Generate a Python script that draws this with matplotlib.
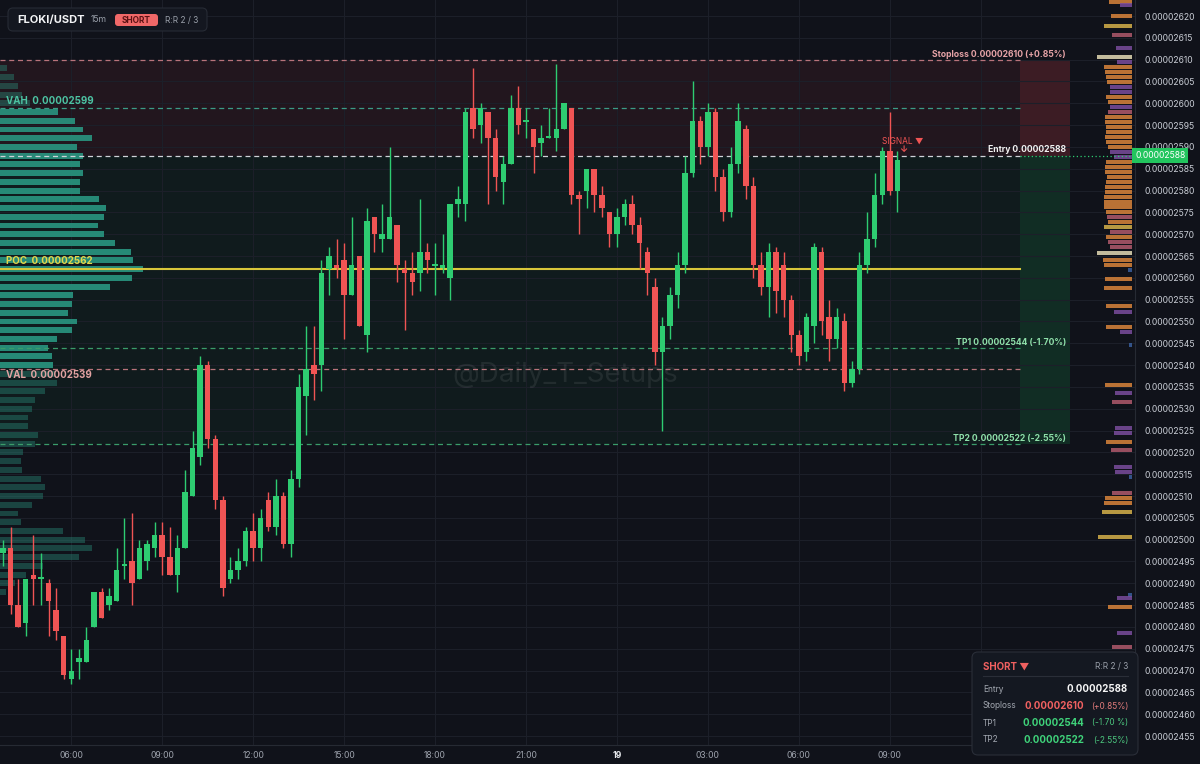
import matplotlib.pyplot as plt
import numpy as np
from matplotlib.patches import FancyBboxPatch
from matplotlib.transforms import blended_transform_factory

plt.rcParams['font.family'] = ['Inter', 'DejaVu Sans']

# prices in units of 1e-8 (2588 -> 0.00002588), 15m candles from 03:45
opens = [2497, 2498, 2485, 2481, 2492, 2491, 2490, 2484, 2478, 2468,
         2472, 2472, 2480, 2488, 2485, 2486, 2494, 2495, 2491, 2495,
         2498, 2501, 2496, 2492, 2498, 2510, 2519, 2540, 2523, 2509,
         2491, 2493, 2495, 2502, 2498, 2509, 2503, 2510, 2499, 2514,
         2533, 2540, 2540, 2562, 2563, 2564, 2556, 2565, 2547, 2574,
         2569, 2569, 2572, 2562, 2561, 2561, 2566, 2562.7, 2562.3, 2560,
         2577, 2577, 2599, 2595, 2598, 2592, 2582, 2586, 2599, 2595.7,
         2594, 2591, 2592, 2592, 2594, 2599, 2579, 2580, 2585, 2579,
         2575, 2570, 2574, 2577, 2572, 2566, 2558, 2543, 2549, 2556,
         2563, 2584, 2596, 2590, 2598, 2583, 2575, 2586, 2594, 2581,
         2563, 2558, 2566, 2563, 2555, 2547, 2543, 2549, 2566, 2551,
         2546, 2550, 2536, 2539, 2563, 2569, 2579, 2589, 2580]
highs = [2500, 2503, 2491, 2491, 2501, 2497, 2491, 2489, 2478, 2475,
         2475, 2480, 2488, 2489, 2489, 2498, 2505, 2506, 2500, 2500,
         2504, 2504, 2503, 2501, 2516, 2525, 2542, 2541, 2524, 2510,
         2496, 2498, 2503, 2506, 2507, 2511, 2514, 2511, 2516, 2538,
         2549, 2549, 2564, 2567, 2569, 2568, 2574, 2565, 2576, 2574,
         2577, 2590, 2572, 2564, 2566, 2578, 2568, 2568, 2570, 2577,
         2581, 2599, 2608, 2600, 2598, 2594, 2588, 2602, 2604, 2599,
         2594, 2595, 2599, 2609, 2600, 2599, 2580, 2585, 2585, 2581,
         2575, 2576, 2578, 2579, 2574, 2567, 2560, 2551, 2558, 2566,
         2588, 2605, 2597, 2600, 2599, 2585, 2590, 2600, 2595, 2583,
         2566, 2568, 2567, 2566, 2556, 2548, 2552, 2568, 2567, 2555,
         2553, 2552, 2541, 2566, 2575, 2584, 2590, 2598, 2589]
lows = [2494, 2483, 2480, 2478, 2485, 2485, 2478, 2477, 2468, 2467,
        2468, 2472, 2480, 2482, 2484, 2486, 2491, 2485, 2491, 2493,
        2496, 2492, 2492, 2488, 2498, 2510, 2517, 2521, 2507, 2487,
        2490, 2491, 2494, 2495, 2495, 2502, 2501, 2498, 2496, 2512,
        2524, 2532, 2534, 2556, 2560, 2546, 2556, 2549, 2543, 2566,
        2566, 2569, 2559, 2548, 2556, 2557, 2561, 2556, 2561, 2555,
        2574, 2573, 2592, 2591, 2577, 2580, 2577, 2586, 2593, 2592,
        2584, 2588, 2592, 2589, 2594, 2577, 2570, 2576, 2575, 2574,
        2567, 2567, 2572, 2570, 2562, 2556, 2540, 2525, 2546, 2553,
        2561, 2583, 2586, 2588, 2580, 2573, 2574, 2584, 2578, 2560,
        2556, 2551, 2552, 2551, 2543, 2540, 2541, 2545, 2547, 2541,
        2544, 2534, 2535, 2538, 2561, 2567, 2577, 2579, 2575]
closes = [2498, 2485, 2480, 2491, 2491, 2491.3, 2486, 2479, 2469, 2470,
          2473, 2477, 2488, 2482, 2487, 2493, 2494.3, 2490, 2498, 2499,
          2501, 2496, 2492, 2498, 2511, 2521, 2540, 2523, 2509, 2489,
          2493, 2495, 2502, 2498, 2505, 2503, 2510, 2499, 2514, 2535,
          2539, 2538, 2561, 2565, 2562.3, 2556, 2563, 2549, 2573, 2570,
          2570, 2574, 2563, 2561, 2559, 2566, 2564, 2563, 2563, 2577,
          2578, 2598, 2594, 2599, 2592, 2583, 2586, 2599, 2595, 2596,
          2590, 2592, 2592.3, 2594, 2600, 2579, 2578, 2585, 2579, 2576,
          2570, 2574, 2577, 2572, 2568, 2561, 2543, 2549, 2556, 2563,
          2584, 2596, 2590, 2598, 2583, 2575, 2586, 2596, 2581, 2563,
          2558, 2566, 2557, 2555, 2547, 2542, 2551, 2567, 2550, 2546,
          2551, 2536, 2539, 2563, 2569, 2579, 2589, 2580, 2587]

time_ticks = [9, 21, 33, 45, 57, 69, 81, 93, 105, 117, 129]
time_labels = ['06:00', '09:00', '12:00', '15:00', '18:00', '21:00', '19',
               '03:00', '06:00', '09:00', '']
price_ticks = list(range(2455, 2621, 5))

# session volume profile (left)
vp_left_price = [2608, 2606, 2604, 2602, 2600, 2598, 2596, 2594, 2592, 2590,
                 2588, 2586, 2584, 2582, 2580, 2578, 2576, 2574, 2572, 2570,
                 2568, 2566, 2564, 2562, 2560, 2558, 2556, 2554, 2552, 2550,
                 2548, 2546, 2544, 2542, 2540, 2538, 2536, 2534, 2532, 2530,
                 2528, 2526, 2524, 2522, 2520, 2518, 2516, 2514, 2512, 2510,
                 2508, 2506, 2504, 2502, 2500, 2498, 2496, 2494, 2492, 2490,
                 2488]
vp_left_vol = [7, 14, 18, 22, 30, 58, 75, 83, 92, 77,
               83, 80, 83, 80, 80, 99, 106, 104, 98, 104,
               115, 131, 133, 143, 132, 110, 73, 72, 68, 77,
               72, 57, 48, 52, 53, 55, 57, 45, 35, 32,
               28, 28, 38, 35, 23, 21, 22, 41, 45, 43,
               32, 18, 21, 63, 85, 92, 79, 43, 26, 15,
               6]

# order-book style heat bars (right)
vp_right_price = [2623.2, 2622.5, 2620.0, 2617.7, 2615.6, 2612.7, 2610.6, 2609.5,
                  2608.3, 2607.2, 2606.0, 2604.9, 2603.7, 2602.6, 2601.4, 2600.3,
                  2599.1, 2598.0, 2596.9, 2595.7, 2594.6, 2593.4, 2592.3, 2591.1,
                  2590.0, 2588.8, 2587.7, 2586.5, 2585.4, 2584.2, 2583.1, 2581.9,
                  2580.8, 2579.6, 2578.5, 2577.3, 2576.2, 2575.1, 2574.0, 2572.8,
                  2571.6, 2570.5, 2569.4, 2568.2, 2567.1, 2565.7, 2564.1, 2562.9,
                  2561.8, 2559.7, 2557.7, 2553.5, 2552.2, 2548.7, 2547.6, 2544.6,
                  2535.4, 2533.6, 2531.5, 2525.6, 2524.4, 2522.4, 2520.5, 2516.7,
                  2515.5, 2514.4, 2510.7, 2509.6, 2508.4, 2506.3, 2500.6, 2487.3,
                  2486.6, 2484.6, 2478.6, 2475.4]
vp_right_vol = [23, 12, 21, 28, 20, 16, 35, 15,
                28, 27, 26, 25, 22, 22, 26, 24,
                22, 24, 27, 27, 26, 26, 27, 26,
                24, 22, 18, 26, 27, 27, 25, 26,
                27, 27, 28, 28, 28, 26, 25, 24,
                28, 22, 26, 24, 22, 35, 29, 28,
                4, 27, 28, 26, 18, 26, 12, 3,
                27, 17, 20, 17, 18, 26, 21, 18,
                17, 3, 20, 27, 28, 30, 34, 4,
                15, 24, 15, 20]
vp_right_kind = ['o', 'p', 'o', 'y', 'k', 'p', 'c', 'p',
                 'o', 'o', 'o', 'o', 'p', 'p', 'o', 'o',
                 'p', 'k', 'o', 'o', 'o', 'o', 'o', 'o',
                 'o', 'p', 'p', 'o', 'o', 'o', 'o', 'o',
                 'o', 'o', 'o', 'o', 'o', 'o', 'k', 'o',
                 'y', 'k', 'o', 'k', 'k', 'c', 'o', 'o',
                 'b', 'o', 'o', 'o', 'p', 'o', 'p', 'b',
                 'o', 'p', 'k', 'p', 'p', 'o', 'k', 'p',
                 'p', 'b', 'k', 'o', 'o', 'y', 'y', 'b',
                 'p', 'o', 'p', 'k']

stoploss, entry, tp1, tp2 = 2610, 2588, 2544, 2522
vah, poc, val = 2599, 2562, 2539

BG = '#10121a'
GRID = '#1c1f29'
GREEN = '#2ecc71'
RED = '#f05454'
kind_colors = {'o': '#d9843a', 'p': '#7a4c9c', 'k': '#b0596c', 'c': '#e4dab4',
               'y': '#d6b04a', 'b': '#3a5f9e'}

W, H = 1200, 764
fig = plt.figure(figsize=(W / 100, H / 100), dpi=100, facecolor=BG)
plot_w, plot_h = 1135, 745
ax = fig.add_axes([0, (H - plot_h) / H, plot_w / W, plot_h / H], facecolor=BG)

xlim = (-0.4, 149.35)
ylim = (2452.95, 2623.67)
px = (xlim[1] - xlim[0]) / plot_w  # data units per pixel in x

# zones
zone_a = 1020 / plot_w
zone_b = 1070 / plot_w
ax.axhspan(entry, stoploss, xmin=0, xmax=zone_b, color='#e0424f', alpha=0.09, lw=0, zorder=0)
ax.axhspan(entry, stoploss, xmin=zone_a, xmax=zone_b, color='#e0424f', alpha=0.14, lw=0, zorder=0)
ax.axhspan(tp2, entry, xmin=0, xmax=zone_b, color='#22c55e', alpha=0.055, lw=0, zorder=0)
ax.axhspan(tp2, entry, xmin=zone_a, xmax=zone_b, color='#22c55e', alpha=0.11, lw=0, zorder=0)

# grid
for t in time_ticks:
    ax.axvline(t, color=GRID, lw=0.8, zorder=0.5)
for p in price_ticks:
    ax.axhline(p, color=GRID, lw=0.8, zorder=0.5)

# left volume profile
vl = np.array(vp_left_vol, dtype=float)
pl = np.array(vp_left_price, dtype=float)
in_va = (pl >= val) & (pl <= vah)
ax.barh(pl[in_va], vl[in_va] * px, left=xlim[0], height=1.35, color='#2a9d86',
        alpha=0.85, lw=0, zorder=1)
ax.barh(pl[~in_va], vl[~in_va] * px, left=xlim[0], height=1.35, color='#2a8a78',
        alpha=0.42, lw=0, zorder=1)

# right heat bars
vr = np.array(vp_right_vol, dtype=float)
ax.barh(vp_right_price, vr * px, left=xlim[1] - 3 * px - vr * px, height=1.0,
        color=[kind_colors[k] for k in vp_right_kind], alpha=0.85, lw=0, zorder=1)

# candles
o, h, l, c = (np.array(a, dtype=float) for a in (opens, highs, lows, closes))
x = np.arange(len(o))
col = np.where(c >= o, GREEN, RED)
ax.vlines(x, l, h, colors=col, lw=1.0, zorder=4)
ax.bar(x, np.maximum(np.abs(c - o), 0.4), bottom=np.minimum(o, c), width=0.72,
       color=col, lw=0, zorder=5)

# levels
dash = (0, (4, 3))
ax.axhline(stoploss, xmax=zone_a, color='#b9737b', ls=dash, lw=0.9, zorder=3)
ax.axhline(vah, xmax=zone_a, color='#3a9c86', ls=dash, lw=0.9, zorder=3)
ax.axhline(entry, xmax=zone_a, color='#cfd2d8', ls=dash, lw=0.9, zorder=3)
ax.axhline(entry, xmin=zone_a, xmax=1, color=GREEN, ls=(0, (1, 2)), lw=0.9, zorder=3)
ax.axhline(poc, xmax=zone_a, color='#d8c63a', lw=1.5, zorder=3)
ax.axhline(tp1, xmax=zone_a, color='#3a9c6a', ls=dash, lw=0.9, zorder=3)
ax.axhline(val, xmax=zone_a, color='#b9737b', ls=dash, lw=0.9, zorder=3)
ax.axhline(tp2, xmax=zone_a, color='#3a9c6a', ls=dash, lw=0.9, zorder=3)

bt = blended_transform_factory(ax.transAxes, ax.transData)
lab_x = 1066 / plot_w
fs_lab = 6.2
ax.text(lab_x, stoploss + 1.2, f'Stoploss 0.{stoploss:08d} (+0.85%)', transform=bt,
        ha='right', va='center', color='#e6a3a7', fontsize=fs_lab, fontweight='bold', zorder=6)
ax.text(lab_x, entry + 1.3, f'Entry 0.{entry:08d}', transform=bt,
        ha='right', va='center', color='#f2f2f2', fontsize=fs_lab, fontweight='bold', zorder=6)
ax.text(lab_x, tp1 + 1.1, f'TP1 0.{tp1:08d} (-1.70%)', transform=bt,
        ha='right', va='center', color='#8fe0aa', fontsize=fs_lab, fontweight='bold', zorder=6)
ax.text(lab_x, tp2 + 1.3, f'TP2 0.{tp2:08d} (-2.55%)', transform=bt,
        ha='right', va='center', color='#8fe0aa', fontsize=fs_lab, fontweight='bold', zorder=6)
ax.text(6 / plot_w, vah + 1.6, f'VAH  0.{vah:08d}', transform=bt, ha='left', va='center',
        color='#4cc2a2', fontsize=7, fontweight='bold', zorder=6)
ax.text(6 / plot_w, poc + 1.8, f'POC  0.{poc:08d}', transform=bt, ha='left', va='center',
        color='#e4d64a', fontsize=7, fontweight='bold', zorder=6)
ax.text(6 / plot_w, val - 1.3, f'VAL  0.{val:08d}', transform=bt, ha='left', va='center',
        color='#e2a2a2', fontsize=7, fontweight='bold', zorder=6)

# signal marker next to the last bars
sig_x = len(o) - 0.3
ax.text(sig_x, entry + 3.4, 'SIGNAL ▼', ha='center', va='center', color=RED,
        fontsize=6, zorder=6)
ax.text(sig_x, entry + 1.4, '↓', ha='center', va='center', color=RED,
        fontsize=6.5, fontweight='bold', zorder=6)

# watermark
ax.text(0.498, 0.497, '@Daily_T_Setups', transform=ax.transAxes, ha='center', va='center',
        color='#ffffff', alpha=0.08, fontsize=20, zorder=2)

# axes styling
ax.set_xlim(*xlim)
ax.set_ylim(*ylim)
ax.yaxis.tick_right()
ax.set_yticks(price_ticks)
ax.set_yticklabels([f'0.{p:08d}' for p in price_ticks])
ax.set_xticks(time_ticks)
ax.set_xticklabels(time_labels)
ax.tick_params(axis='y', length=0, pad=7, labelsize=6.2, labelcolor='#c9cdd5')
ax.tick_params(axis='x', length=0, pad=4, labelsize=6.2, labelcolor='#9ea3ad')
for lab in ax.get_xticklabels():
    if lab.get_text() == '19':
        lab.set_fontweight('bold')
        lab.set_color('#e6e8ec')
for s in ['top', 'left']:
    ax.spines[s].set_visible(False)
ax.spines['right'].set_color('#262a33')
ax.spines['bottom'].set_color('#262a33')

# entry price tag on axis
ax.text(1.0, entry, f'0.{entry:08d}', transform=bt, ha='left', va='center', color='white',
        fontsize=6.2, zorder=7, clip_on=False,
        bbox=dict(boxstyle='square,pad=0.35', fc='#22c55e', ec='none'))

# overlay in pixel coordinates for the header and info panels
ov = fig.add_axes([0, 0, 1, 1], zorder=10)
ov.set_xlim(0, W)
ov.set_ylim(H, 0)
ov.axis('off')
ov.patch.set_alpha(0)

ov.add_patch(FancyBboxPatch((8, 8), 199, 23, boxstyle='round,pad=0,rounding_size=5',
                            fc='#141720', ec='#272b35', lw=0.8))
ov.text(17, 20, 'FLOKI/USDT', color='#f2f3f5', fontsize=8, fontweight='bold', va='center')
ov.text(91, 20, '15m', color='#9aa0aa', fontsize=6.2, va='center')
ov.add_patch(FancyBboxPatch((115, 14), 43, 12, boxstyle='round,pad=0,rounding_size=3',
                            fc='#f06868', ec='none'))
ov.text(136.5, 20.3, 'SHORT', color='#5c1214', fontsize=6, fontweight='bold',
        ha='center', va='center')
ov.text(165, 20, 'R:R 2 / 3', color='#9aa0aa', fontsize=6, va='center')

ov.add_patch(FancyBboxPatch((972, 652), 166, 103, boxstyle='round,pad=0,rounding_size=6',
                            fc='#141821', ec='#2a2e38', lw=0.8))
ov.text(983, 667, 'SHORT ▼', color='#f06060', fontsize=7, fontweight='bold', va='center')
ov.text(1128, 667, 'R:R 2 / 3', color='#9aa0aa', fontsize=6, va='center', ha='right')
ov.plot([983, 1128], [676, 676], color='#2a2e38', lw=0.8)
rows = [('Entry', f'0.{entry:08d}', '', '#f5f5f5', '#f5f5f5'),
        ('Stoploss', f'0.{stoploss:08d}', '(+0.85%)', '#f06060', '#e07a7a'),
        ('TP1', f'0.{tp1:08d}', '(-1.70 %)', '#3fd27a', '#4cc77f'),
        ('TP2', f'0.{tp2:08d}', '(-2.55%)', '#3fd27a', '#4cc77f')]
for k, (name, value, pct, vcol, pcol) in enumerate(rows):
    y = 689 + 17 * k
    ov.text(983, y, name, color='#a3a8b1', fontsize=6, va='center')
    if pct:
        ov.text(1084, y, value, color=vcol, fontsize=7, fontweight='bold', va='center', ha='right')
        ov.text(1128, y, pct, color=pcol, fontsize=6, va='center', ha='right')
    else:
        ov.text(1128, y, value, color=vcol, fontsize=7, fontweight='bold', va='center', ha='right')

fig.savefig('out.png', dpi=100, facecolor=BG)
